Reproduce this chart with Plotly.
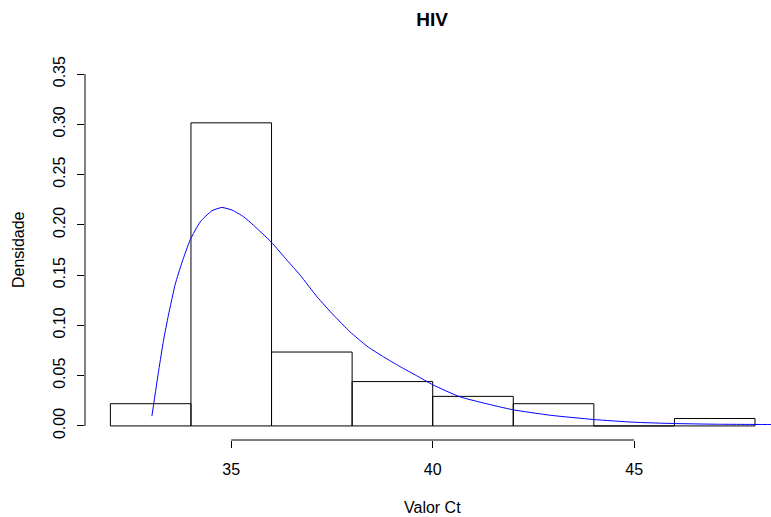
import plotly.graph_objects as go

# ---- data ----
bin_edges = [32, 34, 36, 38, 40, 42, 44, 46, 48]
density = [0.0221, 0.3015, 0.0735, 0.0441, 0.0294, 0.0221, 0.0, 0.0074]

curve_x = [33.03, 33.20, 33.32, 33.44, 33.61, 33.78, 33.98, 34.23, 34.52, 34.77,
           35.02, 35.31, 35.55, 35.99, 36.38, 36.71, 37.13, 37.54, 37.95, 38.37,
           38.78, 39.19, 39.60, 40.00, 40.68, 41.67, 42.00, 42.92, 43.99, 44.98,
           45.97, 47.05, 48.40, 48.60]
curve_y = [0.0097, 0.0554, 0.0853, 0.1100, 0.141, 0.163, 0.1850, 0.203, 0.214, 0.2173,
           0.2147, 0.208, 0.1997, 0.183, 0.165, 0.150, 0.1284, 0.1102, 0.0935, 0.0793,
           0.0687, 0.0590, 0.0500, 0.0410, 0.0289, 0.0189, 0.0160, 0.0106, 0.0064, 0.0037,
           0.0024, 0.0017, 0.0014, 0.0014]

x_ticks = [35, 40, 45]
y_ticks = [0.00, 0.05, 0.10, 0.15, 0.20, 0.25, 0.30, 0.35]
y_tick_text = ["0.00", "0.05", "0.10", "0.15", "0.20", "0.25", "0.30", "0.35"]

title_text = "HIV"
x_label = "Valor Ct"
y_label = "Densidade"

# ---- build histogram rectangles from the data ----
hx, hy = [], []
for i, d in enumerate(density):
    l, r = bin_edges[i], bin_edges[i + 1]
    hx += [l, l, r, r, l, None]
    hy += [0, d, d, 0, 0, None]

FONT = "Liberation Sans, Arial, Helvetica, sans-serif"
FS = 16

fig = go.Figure()
fig.add_trace(go.Scatter(x=hx, y=hy, mode="lines",
                         line=dict(color="black", width=1),
                         hoverinfo="skip", showlegend=False))
fig.add_trace(go.Scatter(x=curve_x, y=curve_y, mode="lines",
                         line=dict(color="#0000ff", width=1, shape="spline", smoothing=0.5),
                         showlegend=False))

W, H = 771, 517
L, R, T, B = 85, 0, 60, 77

fig.update_layout(
    width=W, height=H,
    margin=dict(l=L, r=R, t=T, b=B, pad=0),
    paper_bgcolor="white", plot_bgcolor="white",
    font=dict(family=FONT, size=FS, color="black"),
    showlegend=False,
    title=dict(text="<b>" + title_text + "</b>", x=432 / W, xanchor="center",
               xref="container", y=1 - 19 / H, yanchor="middle", yref="container",
               font=dict(size=19, family=FONT, color="black")),
)

fig.update_xaxes(range=[31.37, 48.397], showgrid=False, zeroline=False,
                 showline=False, tickmode="array", tickvals=x_ticks,
                 ticktext=[str(t) for t in x_ticks],
                 ticks="outside", ticklen=7, tickwidth=1, tickcolor="black",
                 ticklabelstandoff=8,
                 tickfont=dict(size=FS, family=FONT, color="black"))
fig.update_yaxes(range=[-0.014, 0.364], showgrid=False, zeroline=False,
                 showline=False, tickmode="array", tickvals=y_ticks,
                 ticktext=y_tick_text, tickangle=-90,
                 ticks="outside", ticklen=7, tickwidth=1, tickcolor="black",
                 ticklabelstandoff=6,
                 tickfont=dict(size=FS, family=FONT, color="black"))

# R-style axis lines spanning only the tick range
fig.add_shape(type="line", xref="x", yref="paper", x0=x_ticks[0], x1=x_ticks[-1],
              y0=0, y1=0, line=dict(color="black", width=1))
fig.add_shape(type="line", xref="paper", yref="y", x0=0, x1=0,
              y0=y_ticks[0], y1=y_ticks[-1], line=dict(color="black", width=1))

pw = W - L - R
ph = H - T - B
fig.add_annotation(text=x_label, xref="paper", yref="paper",
                   x=(432 - L) / pw, y=-(507 - (H - B)) / ph,
                   xanchor="center", yanchor="middle", showarrow=False,
                   font=dict(size=FS, family=FONT, color="black"))
fig.add_annotation(text=y_label, xref="paper", yref="paper",
                   x=-(L - 18) / pw, y=((H - B) - 250) / ph, textangle=-90,
                   xanchor="center", yanchor="middle", showarrow=False,
                   font=dict(size=FS, family=FONT, color="black"))

fig.write_html("out.html")
